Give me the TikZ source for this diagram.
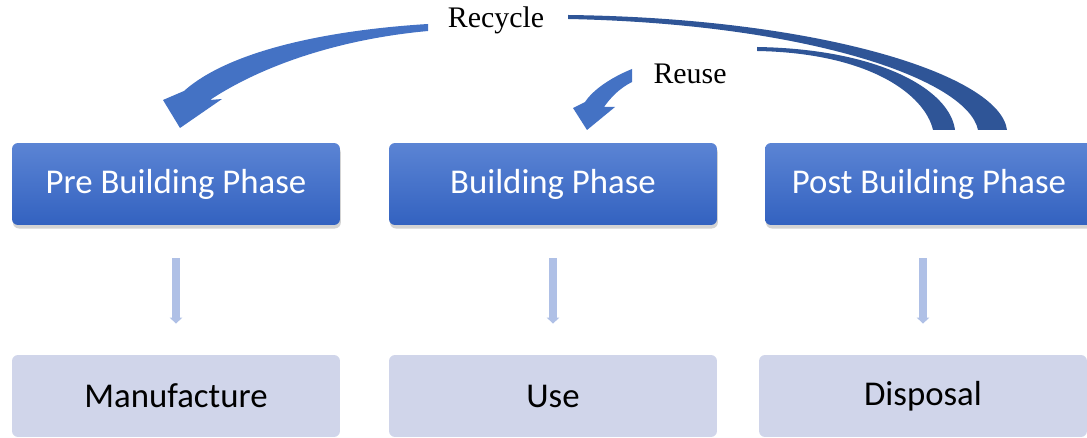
\documentclass[tikz,border=0pt]{standalone}
\usepackage{fontspec}
\setmainfont{Liberation Serif}
\newfontfamily\calibri{Carlito}
\usetikzlibrary{shadows,arrows.meta}
\definecolor{phasetop}{HTML}{5B84D4}
\definecolor{phasebot}{HTML}{3362C0}
\definecolor{stagefill}{HTML}{D0D5EA}
\definecolor{loopblue}{HTML}{4472C4}
\definecolor{loopdark}{HTML}{2F5597}
\definecolor{linkblue}{HTML}{AFC0E6}
\begin{document}
\begin{tikzpicture}[x=0.02cm, y=-0.02cm,
          phase/.style={rounded corners=0.12cm, top color=phasetop, bottom color=phasebot,
            minimum width=6.56cm, minimum height=1.64cm, text=white,
            font=\calibri\fontsize{19.8}{23}\selectfont,
            drop shadow={shadow xshift=0.5pt, shadow yshift=-2pt, opacity=0.35}},
          stage/.style={rounded corners=0.12cm, fill=stagefill,
            minimum width=6.56cm, minimum height=1.64cm,
            font=\calibri\fontsize{19.8}{23}\selectfont},
          link/.style={draw=linkblue, line width=5pt, -{Triangle[width=7pt,length=3.5pt]},
            shorten <=0.66cm, shorten >=0.62cm},
          tag/.style={font=\fontsize{17}{20}\selectfont, inner sep=1pt}]
        \useasboundingbox (0,0) rectangle (1087,438);
        % phases
        \node[phase] (pre) at (176,184) {Pre Building Phase};
        \node[phase] (bld) at (553,184) {Building Phase};
        \node[phase] (post) at (929,184) {Post Building Phase};
        % stages
        \node[stage] (man) at (176,396) {Manufacture};
        \node[stage] (use) at (553,396) {Use};
        \node[stage] (dis) at (923,396) {Disposal};
        \draw[link] (pre.south) -- (man.north);
        \draw[link] (bld.south) -- (use.north);
        \draw[link] (post.south -| dis.north) -- (dis.north);
        % loop labels
        \node[tag] (recycle) at (496,20) {Recycle};
        \node[tag] (reuse) at (690,74) {Reuse};
        % recycle arrow
        \fill[loopblue] (428,24) .. controls (330,30) and (230,50) .. (184,91) -- (163,100)
          -- (180,128) -- (222,99) -- (210,100) .. controls (255,70) and (330,40) .. (428,31) -- cycle;
        % reuse arrow
        \fill[loopblue] (632,69) .. controls (610,78) and (593,90) .. (585,102) -- (573,108)
          -- (587,130) -- (615,107) -- (604,107) .. controls (611,97) and (620,88) .. (632,82) -- cycle;
        % incoming strokes from post phase
        \fill[loopdark] (568,15) .. controls (820,18) and (1000,75) .. (1007,130) -- (978,130)
          .. controls (968,80) and (810,24) .. (568,19) -- cycle;
        \fill[loopdark] (757,47) .. controls (880,49) and (950,90) .. (955,130) -- (933,130)
          .. controls (925,95) and (870,53) .. (757,51) -- cycle;
      \end{tikzpicture}
\end{document}
